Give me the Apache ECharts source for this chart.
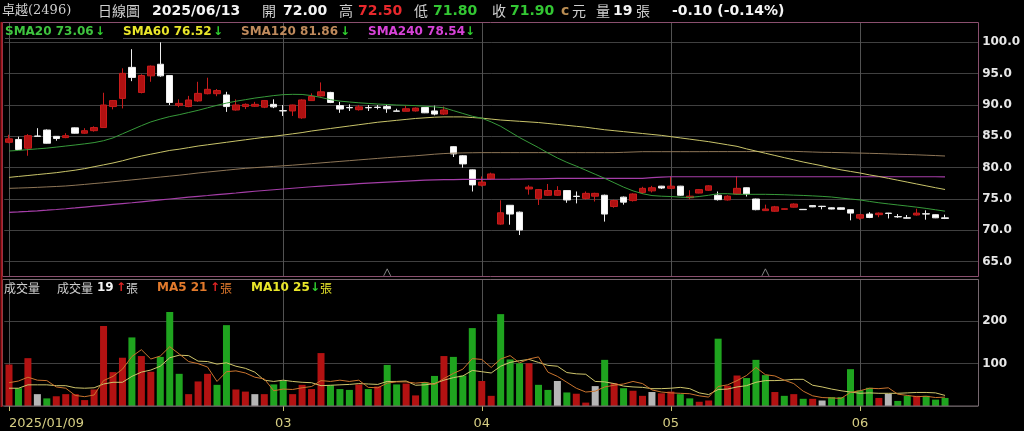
<!DOCTYPE html>
<html><head><meta charset="utf-8">
<script src="https://cdn.jsdelivr.net/npm/echarts@6/dist/echarts.min.js"></script>
<style>html,body{margin:0;padding:0;background:#000;}#c{width:1024px;height:431px;}</style>
</head><body><div id="c"></div><script>
// ---------------- DATA ----------------
const YEAR = '2025';
const dates = [
 '01/09','01/10','01/13','01/14','01/15','01/16','01/17','01/20','01/21','01/22',
 '02/03','02/04','02/05','02/06','02/07','02/10','02/11','02/12','02/13','02/14','02/17','02/18','02/19','02/20','02/21','02/24','02/25','02/26','02/27',
 '03/03','03/04','03/05','03/06','03/07','03/10','03/11','03/12','03/13','03/14','03/17','03/18','03/19','03/20','03/21','03/24','03/25','03/26','03/27','03/28','03/31',
 '04/01','04/02','04/07','04/08','04/09','04/10','04/11','04/14','04/15','04/16','04/17','04/18','04/21','04/22','04/23','04/24','04/25','04/28','04/29','04/30',
 '05/02','05/05','05/06','05/07','05/08','05/09','05/12','05/13','05/14','05/15','05/16','05/19','05/20','05/21','05/22','05/23','05/26','05/27','05/28','05/29',
 '06/02','06/03','06/04','06/05','06/06','06/09','06/10','06/11','06/12','06/13'];
const tickIdx = [0, 29, 50, 70, 90];
const markerIdx = [40, 80];

const opens = [
 84.05,84.5,83.1,85.05,86.0,85.0,84.8,86.35,85.5,85.9,
 86.4,89.75,91.05,96.0,92.0,94.65,96.5,94.7,89.95,89.75,
 90.65,91.8,91.8,91.6,89.2,89.75,89.8,89.65,90.1,89.1,
 89.05,87.95,90.7,91.45,92.0,89.9,89.6,89.25,89.6,89.65,
 89.75,89.05,89.0,89.05,89.6,89.05,88.55,83.35,81.9,79.65,
 77.2,78.2,71.0,74.0,72.9,76.6,75.1,75.6,75.6,76.35,
 75.45,75.1,75.45,75.6,73.8,75.3,74.75,76.05,76.3,77.05,
 76.7,77.05,75.2,75.95,76.4,75.6,74.85,75.8,76.8,75.0,
 73.15,73.05,73.35,73.7,73.35,73.95,73.85,73.6,73.6,73.3,
 71.95,72.6,72.5,72.75,72.2,72.0,72.45,72.65,72.5,72.0];
const highs = [
 85.25,84.95,85.35,86.3,86.1,85.05,85.5,86.4,86.3,86.6,
 91.95,90.8,95.85,98.9,94.9,96.3,100.0,94.7,90.9,91.45,
 93.7,94.35,92.55,92.1,90.9,90.25,90.5,90.8,90.9,90.0,
 90.05,90.9,91.85,93.6,92.1,90.5,90.1,90.0,90.0,90.0,
 90.0,89.4,89.9,89.6,89.65,89.9,89.75,83.4,82.0,79.7,
 78.6,79.2,74.8,74.0,73.0,77.2,76.6,77.4,77.05,76.4,
 76.2,76.2,76.0,75.7,74.9,75.4,75.9,76.95,77.1,77.1,
 78.6,77.1,76.4,76.6,77.2,76.2,75.6,78.6,76.85,75.05,
 74.1,73.9,73.5,74.3,73.4,74.0,73.9,73.65,73.65,73.3,
 72.6,72.9,72.85,72.8,72.6,72.45,73.45,73.2,72.55,72.5];
const lows = [
 83.9,82.8,81.9,84.95,83.85,84.3,84.7,85.45,85.4,85.75,
 86.35,89.3,89.45,93.8,91.85,93.7,94.5,90.0,89.65,89.65,
 90.5,91.7,91.4,88.9,89.1,89.35,89.7,89.5,89.5,88.25,
 88.25,87.8,90.65,91.35,90.3,88.75,89.05,89.1,89.05,89.3,
 88.75,89.0,89.0,88.95,88.7,88.35,88.4,81.7,80.0,76.2,
 77.0,78.1,70.9,70.9,69.25,75.7,74.05,75.5,75.5,74.4,
 74.3,74.9,74.6,71.4,73.6,74.1,74.6,75.8,76.05,76.6,
 76.6,75.5,74.95,75.9,76.3,74.75,74.75,75.7,75.4,73.2,
 73.1,72.95,73.3,73.65,73.25,73.7,73.35,73.35,73.3,71.6,
 71.7,71.95,72.1,71.9,72.0,71.9,72.35,71.7,71.95,71.8];
const closes = [
 84.6,82.9,85.1,85.0,83.9,84.65,85.1,85.5,85.9,86.4,
 90.0,90.7,95.05,94.4,94.7,96.2,94.65,90.4,90.25,90.8,
 91.85,92.5,92.3,89.75,90.0,90.1,90.1,90.7,89.7,89.05,
 90.0,90.8,91.35,92.1,90.4,89.35,89.55,89.7,89.55,89.6,
 89.4,89.0,89.4,89.5,88.75,88.55,89.2,82.2,80.6,77.25,
 77.7,79.0,72.8,72.6,70.05,76.9,76.5,76.35,76.35,74.85,
 75.4,75.9,75.9,72.6,74.75,74.5,75.8,76.7,76.8,76.75,
 77.05,75.6,75.45,76.5,77.1,74.9,75.45,76.7,75.8,73.3,
 73.4,73.75,73.45,74.2,73.3,73.75,73.8,73.4,73.35,72.75,
 72.5,72.05,72.75,72.7,72.15,71.95,72.75,72.6,72.0,71.9];

const sma20 = [
 82.66,82.75,82.88,83.0,83.12,83.28,83.45,83.62,83.8,84.0,
 84.3,84.75,85.4,86.05,86.7,87.3,87.75,88.15,88.45,88.8,
 89.15,89.55,89.95,90.3,90.6,90.85,91.1,91.3,91.5,91.65,
 91.7,91.68,91.5,91.2,90.85,90.62,90.48,90.35,90.25,90.15,
 90.08,90.0,89.95,89.9,89.8,89.7,89.55,89.1,88.65,88.2,
 87.9,87.3,86.6,85.7,84.8,84.0,83.2,82.35,81.55,80.85,
 80.25,79.6,78.95,78.3,77.6,76.9,76.3,75.85,75.55,75.45,
 75.4,75.3,75.25,75.4,75.6,75.85,75.85,75.75,75.75,75.75,
 75.75,75.72,75.68,75.62,75.57,75.5,75.42,75.32,75.15,75.0,
 74.85,74.62,74.4,74.22,74.05,73.88,73.7,73.5,73.28,73.06];
const sma60 = [
 78.45,78.6,78.75,78.9,79.05,79.2,79.4,79.6,79.85,80.15,
 80.45,80.75,81.1,81.5,81.85,82.15,82.45,82.75,82.95,83.2,
 83.45,83.65,83.85,84.05,84.25,84.45,84.65,84.85,85.0,85.2,
 85.4,85.6,85.85,86.05,86.25,86.45,86.65,86.85,87.05,87.25,
 87.4,87.55,87.7,87.85,87.95,88.05,88.1,88.1,88.1,88.0,
 87.9,87.75,87.6,87.5,87.4,87.3,87.2,87.05,86.9,86.75,
 86.6,86.45,86.25,86.05,85.9,85.75,85.6,85.45,85.3,85.15,
 84.95,84.75,84.55,84.35,84.15,83.9,83.65,83.4,83.0,82.65,
 82.3,81.95,81.6,81.25,80.9,80.6,80.3,79.95,79.65,79.4,
 79.15,78.85,78.6,78.3,78.0,77.7,77.4,77.1,76.8,76.52];
const sma120 = [
 76.7,76.75,76.8,76.86,76.93,77.0,77.08,77.2,77.33,77.47,
 77.6,77.75,77.9,78.05,78.2,78.35,78.5,78.65,78.8,78.97,
 79.15,79.3,79.45,79.6,79.75,79.9,80.0,80.1,80.2,80.3,
 80.4,80.52,80.64,80.76,80.88,81.0,81.12,81.24,81.36,81.48,
 81.6,81.7,81.8,81.9,82.02,82.15,82.25,82.32,82.36,82.38,
 82.4,82.4,82.4,82.4,82.4,82.4,82.4,82.4,82.4,82.4,
 82.4,82.4,82.4,82.4,82.4,82.45,82.5,82.55,82.55,82.55,
 82.55,82.55,82.55,82.55,82.56,82.56,82.56,82.56,82.56,82.58,
 82.6,82.61,82.62,82.6,82.55,82.5,82.45,82.43,82.4,82.36,
 82.33,82.29,82.25,82.2,82.15,82.1,82.05,81.99,81.93,81.86];
const sma240 = [
 72.88,72.95,73.03,73.12,73.22,73.33,73.45,73.58,73.72,73.86,
 74.0,74.14,74.27,74.4,74.55,74.7,74.85,75.0,75.15,75.3,
 75.43,75.56,75.7,75.83,75.96,76.1,76.24,76.36,76.48,76.6,
 76.72,76.84,76.96,77.06,77.16,77.26,77.35,77.44,77.52,77.6,
 77.68,77.76,77.84,77.92,78.0,78.05,78.08,78.1,78.12,78.13,
 78.14,78.15,78.15,78.16,78.18,78.2,78.22,78.25,78.28,78.3,
 78.3,78.3,78.3,78.3,78.3,78.3,78.3,78.3,78.4,78.5,
 78.55,78.55,78.55,78.55,78.55,78.55,78.55,78.55,78.55,78.55,
 78.55,78.55,78.55,78.55,78.55,78.55,78.55,78.55,78.55,78.55,
 78.55,78.55,78.55,78.55,78.55,78.55,78.55,78.55,78.55,78.54];

const volumes = [
 98,42,113,28,18,23,28,28,14,39,
 189,80,114,162,118,81,116,222,76,28,
 58,76,50,191,39,34,28,28,51,59,
 28,50,40,125,49,40,38,51,40,46,
 97,51,53,25,56,71,118,116,72,184,
 59,24,217,110,101,101,50,38,59,32,
 29,8,47,109,54,42,36,24,33,30,
 34,28,18,10,13,159,48,72,66,109,
 73,33,24,28,17,17,13,21,21,87,
 37,43,19,29,12,24,24,24,15,19];
// +1 up vs previous close, -1 down, 0 unchanged
const volDir = [
 1,-1,1,0,-1,1,1,1,1,1,
 1,1,1,-1,1,1,-1,-1,-1,1,
 1,1,-1,-1,1,1,0,1,-1,-1,
 1,1,1,1,-1,-1,-1,1,-1,1,
 -1,-1,1,1,-1,-1,1,-1,-1,-1,
 1,1,-1,-1,-1,1,-1,-1,0,-1,
 1,1,0,-1,1,-1,1,1,0,1,
 1,-1,-1,1,1,-1,1,1,-1,-1,
 -1,1,-1,1,-1,1,0,-1,-1,-1,
 -1,-1,1,0,-1,-1,1,-1,-1,-1];
const volMA5 = [
 55,59,68,61,60,45,42,25,22,26,
 60,70,87,117,133,111,118,140,123,105,
 100,92,58,81,83,78,68,64,36,40,
 39,43,46,60,58,61,58,61,44,43,
 54,57,57,54,56,51,65,77,87,112,
 110,91,111,119,102,111,116,80,70,56,
 42,33,35,45,49,52,58,53,38,33,
 31,30,29,24,21,46,50,60,72,91,
 74,71,61,53,35,24,20,19,18,32,
 36,42,41,43,28,25,22,23,20,21];
const volMA10 = [
 42,42,50,50,50,48,48,43,42,43,
 52,56,56,70,80,85,94,114,120,119,
 106,105,99,102,94,89,80,61,58,61,
 58,56,55,48,49,50,51,53,52,51,
 58,58,59,49,50,53,61,67,71,84,
 81,78,94,103,107,110,103,96,94,79,
 76,75,58,57,53,47,45,44,41,41,
 42,44,41,31,27,39,40,45,48,56,
 60,60,61,63,63,49,45,40,36,33,
 30,31,30,30,30,31,32,32,31,25];

const priceAxis = {min: 65, max: 100, step: 5};
const volAxis = {min: 0, max: 300, step: 100};

const stockName = '卓越(2496)';
const chartType = '日線圖';
const lastDate = '2025/06/13';
const lastO = '72.00', lastH = '72.50', lastL = '71.80', lastC = '71.90';
const lastVol = '19', lastChg = '-0.10 (-0.14%)';
const smaLegend = [['SMA20','73.06'],['SMA60','76.52'],['SMA120','81.86'],['SMA240','78.54']];
const volLegend = {vol:'19', ma5:'21', ma10:'25'};

// ---------------- LAYOUT ----------------
const SLOT = 9.455, SLOTS = 103;
const GL = 9 - SLOT / 2, GW = SLOT * SLOTS;
const isTick = (i) => tickIdx.indexOf(i) >= 0;

const candles = dates.map((d, i) => [opens[i], closes[i], lows[i], highs[i]]);
const volData = volumes.map((v, i) => ({
  value: v,
  itemStyle: {color: volDir[i] > 0 ? '#b31212' : (volDir[i] < 0 ? '#1fa41f' : '#b6b6b6')}
}));

const F = '"DejaVu Sans", "Noto Sans CJK TC"';
const CJK = '"Noto Sans CJK TC"';
function T(x, y, text, fill, font, extra) {
  return Object.assign({type: 'text', x: x, y: y, z: 100, silent: true,
    style: {text: text, fill: fill, font: font, verticalAlign: 'middle', align: 'left'}}, extra || {});
}
const gray = '#cfcfcf';
const graphics = [
  // frames
  {type: 'rect', z: 90, silent: true, shape: {x: 2.5, y: 22.5, width: 976, height: 254},
   style: {fill: 'none', stroke: '#8a4f6e', lineWidth: 1}},
  {type: 'rect', z: 90, silent: true, shape: {x: 2.5, y: 279.5, width: 976, height: 126.5},
   style: {fill: 'none', stroke: '#76686f', lineWidth: 1}},
  {type: 'line', z: 91, silent: true, shape: {x1: 1.5, y1: 22, x2: 1.5, y2: 407},
   style: {stroke: '#a3161c', lineWidth: 2}},
  // header
  T(2, 11, stockName, gray, '13px "DejaVu Serif", "Noto Sans CJK TC"'),
  T(98, 11, chartType, gray, '14px ' + CJK),
  T(152, 11, lastDate, '#f4f4f4', 'bold 14px ' + F),
  T(262, 11, '開', gray, '14px ' + CJK),
  T(283, 11, lastO, '#f4f4f4', 'bold 14px ' + F),
  T(339, 11, '高', gray, '14px ' + CJK),
  T(358, 11, lastH, '#e8282c', 'bold 14px ' + F),
  T(414, 11, '低', gray, '14px ' + CJK),
  T(433, 11, lastL, '#33c733', 'bold 14px ' + F),
  T(492, 11, '收', gray, '14px ' + CJK),
  T(510, 11, lastC, '#33c733', 'bold 14px ' + F),
  T(561, 11, 'c', '#b98c52', 'bold 14px ' + F),
  T(572, 11, '元', gray, '14px ' + CJK),
  T(596, 11, '量', gray, '14px ' + CJK),
  T(613, 11, lastVol, '#f4f4f4', 'bold 14px ' + F),
  T(636, 11, '張', gray, '14px ' + CJK),
  T(672, 11, lastChg, '#f4f4f4', 'bold 14px ' + F),
];
// SMA legend
const smaCols = ['#3fc43f', '#e9e62a', '#bf8a5c', '#d743d7'];
const smaX = [5, 123, 241, 368];
const smaArrowX = [95, 213, 340, 465];
smaLegend.forEach((s, k) => {
  graphics.push(T(smaX[k], 32, s[0] + ' ' + s[1], smaCols[k], 'bold 12px ' + F));
  graphics.push(T(smaArrowX[k], 32, '↓', '#2fd02f', 'bold 12px ' + F));
  graphics.push({type: 'line', z: 95, silent: true,
    shape: {x1: smaX[k], y1: 38.5, x2: smaArrowX[k] + 8, y2: 38.5},
    style: {stroke: '#4a4a4a', lineWidth: 1}});
});
// volume legend
graphics.push(
  T(4, 288, '成交量', gray, '12px ' + CJK),
  T(57, 288, '成交量', gray, '12px ' + CJK),
  T(97, 288, volLegend.vol, '#f4f4f4', 'bold 12px ' + F),
  T(116, 288, '↑', '#e02424', 'bold 12px ' + F),
  T(126, 288, '張', gray, '12px ' + CJK),
  T(157, 288, 'MA5 ' + volLegend.ma5, '#e27a2c', 'bold 12px ' + F),
  T(210, 288, '↑', '#e02424', 'bold 12px ' + F),
  T(220, 288, '張', '#e27a2c', '12px ' + CJK),
  T(251, 288, 'MA10 ' + volLegend.ma10, '#e9e62a', 'bold 12px ' + F),
  T(310, 288, '↓', '#2fd02f', 'bold 12px ' + F),
  T(320, 288, '張', '#e9e62a', '12px ' + CJK)
);

const splitV = {show: true, interval: isTick, alignWithLabel: true, lineStyle: {color: '#525252', width: 1}};
const yLabel = {color: '#e6e6e6', fontSize: 12, fontWeight: 'bold', fontFamily: 'DejaVu Sans', margin: 4};

const option = {
  backgroundColor: '#000',
  animation: false,
  grid: [
    {left: GL, top: 22, width: GW, height: 255},
    {left: GL, top: 42.3, width: GW, height: 219.4},
    {left: GL, top: 279, width: GW, height: 127}
  ],
  xAxis: [
    {gridIndex: 0, type: 'category', data: dates, max: SLOTS - 1, boundaryGap: true,
     axisLine: {show: false}, axisTick: {show: false}, axisLabel: {show: false}, splitLine: splitV},
    {gridIndex: 1, type: 'category', data: dates, max: SLOTS - 1, boundaryGap: true, show: false},
    {gridIndex: 2, type: 'category', data: dates, max: SLOTS - 1, boundaryGap: true,
     axisLine: {show: false},
     axisTick: {show: true, interval: isTick, alignWithLabel: true, length: 5, lineStyle: {color: '#c8c070'}},
     axisLabel: {interval: isTick, color: '#d6ce84', fontSize: 13, fontFamily: 'DejaVu Sans', margin: 11,
       alignMinLabel: 'left',
       formatter: (v, i) => i === 0 ? YEAR + '/' + v : String(v).slice(0, 2)},
     splitLine: splitV}
  ],
  yAxis: [
    {gridIndex: 0, type: 'value', min: 0, max: 1, show: false},
    {gridIndex: 1, type: 'value', position: 'right', min: priceAxis.min, max: priceAxis.max, interval: priceAxis.step,
     axisLine: {show: false}, axisTick: {show: false},
     axisLabel: Object.assign({formatter: v => v.toFixed(1)}, yLabel),
     splitLine: {show: true, lineStyle: {color: '#404040', width: 1}}},
    {gridIndex: 2, type: 'value', position: 'right', min: volAxis.min, max: volAxis.max, interval: volAxis.step,
     axisLine: {show: false}, axisTick: {show: false},
     axisLabel: Object.assign({showMinLabel: false, showMaxLabel: false}, yLabel),
     splitLine: {show: true, lineStyle: {color: '#404040', width: 1}}}
  ],
  graphic: graphics,
  series: [
    {type: 'line', xAxisIndex: 1, yAxisIndex: 1, data: sma240, symbol: 'none', silent: true,
     lineStyle: {color: '#a53ea8', width: 1.2}},
    {type: 'line', xAxisIndex: 1, yAxisIndex: 1, data: sma120, symbol: 'none', silent: true,
     lineStyle: {color: '#8e7657', width: 1}},
    {type: 'line', xAxisIndex: 1, yAxisIndex: 1, data: sma60, symbol: 'none', silent: true,
     lineStyle: {color: '#c9c46a', width: 1}},
    {type: 'line', xAxisIndex: 1, yAxisIndex: 1, data: sma20, symbol: 'none', silent: true,
     lineStyle: {color: '#379a3a', width: 1}},
    {type: 'candlestick', xAxisIndex: 1, yAxisIndex: 1, data: candles, barWidth: 7, silent: true,
     itemStyle: {color: '#b01111', color0: '#ffffff', borderColor: '#c81c1c', borderColor0: '#eeeeee', borderWidth: 1}},
    {type: 'scatter', xAxisIndex: 1, yAxisIndex: 1, clip: false, silent: true,
     data: markerIdx.map(i => [i, 63.3]),
     symbol: 'path://M0,10L5,0L10,10', symbolSize: [7, 7],
     itemStyle: {color: 'none', borderColor: '#a0a0a0', borderWidth: 1}},
    {type: 'bar', xAxisIndex: 2, yAxisIndex: 2, data: volData, barWidth: 7, silent: true},
    {type: 'line', xAxisIndex: 2, yAxisIndex: 2, data: volMA10, symbol: 'none', silent: true,
     lineStyle: {color: '#cfc66c', width: 1}},
    {type: 'line', xAxisIndex: 2, yAxisIndex: 2, data: volMA5, symbol: 'none', silent: true,
     lineStyle: {color: '#c9742e', width: 1}}
  ]
};
const chart = echarts.init(document.getElementById('c'), null, {renderer: 'canvas'});
chart.setOption(option);
</script></body></html>
